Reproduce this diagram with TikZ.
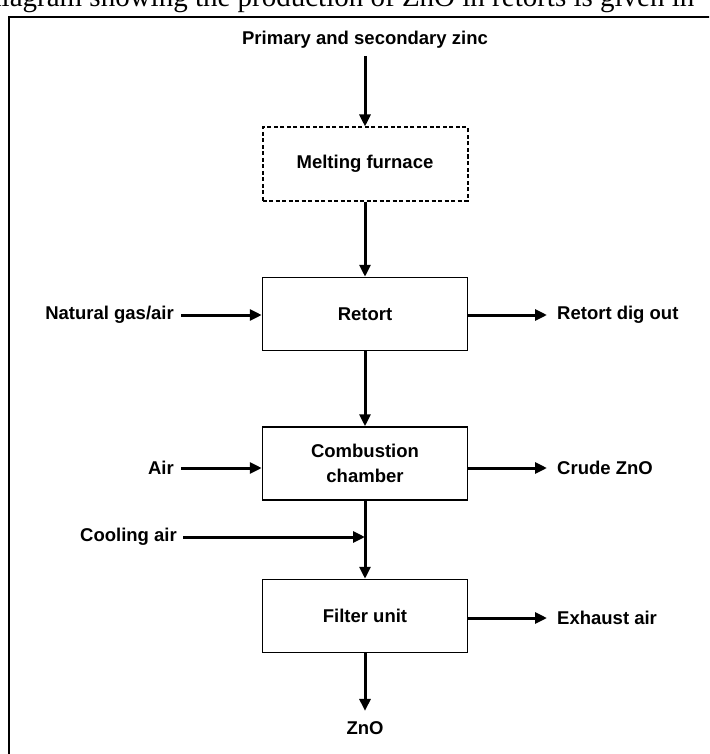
\documentclass[tikz,border=0pt]{standalone}
\usepackage{fontspec}
\setmainfont{Liberation Serif}
\setsansfont{Liberation Sans}
\usetikzlibrary{positioning, arrows.meta, calc}

\begin{document}
\begin{tikzpicture}[x=1pt, y=-1pt,
  unit/.style={draw, line width=1.5pt, minimum width=205pt, minimum height=73pt,
    inner sep=0pt, align=center, font=\sffamily\bfseries\fontsize{18.5}{25}\selectfont},
  stream/.style={inner sep=0pt, font=\sffamily\bfseries\fontsize{18.5}{22}\selectfont},
  flow/.style={line width=3pt, -{Triangle[length=12pt, width=11pt]}}]
  \clip (0,0) rectangle (709,754);
  % running text of the page, cut by the top edge
  \node[anchor=base west, inner sep=0pt, font=\fontsize{29}{34}\selectfont]
    (pagetext) at (-13,6.5) {diagram showing the production of ZnO in retorts is given in};
  \draw[line width=1.4pt] (9,17) rectangle (760,800);
  % process units
  \node[unit, line width=2pt, dash pattern=on 4pt off 2.5pt] (melt) at (365,164) {Melting furnace};
  \node[unit] (retort) at (365,314) {Retort};
  \node[unit] (comb) at (365,463.5) {Combustion\\chamber};
  \node[unit] (filter) at (365,616) {Filter unit};
  % feeds
  \node[stream] (zinc) at (365,40) {Primary and secondary zinc};
  \node[stream, anchor=east] (natgas) at (174,315) {Natural gas/air};
  \node[stream, anchor=east] (air) at (174,468) {Air};
  \node[stream, anchor=east] (cooling) at (177,537) {Cooling air};
  \coordinate (mix) at (365,537);
  % products
  \foreach \unit/\name/\ypos/\txt in {retort/digout/315/Retort dig out,
      comb/crude/468/Crude ZnO, filter/exhaust/618/Exhaust air} {
    \node[stream, anchor=west] (\name) at (557,\ypos) {\txt};
    \draw[flow, shorten >=10pt] (\unit.east |- \name) -- (\name);
  }
  \node[stream, anchor=base] (zno) at (365,734) {ZnO};
  % main line
  \draw[flow, shorten <=7pt] (zinc) -- (melt);
  \draw[flow] (melt) -- (retort);
  \draw[flow] (retort) -- (comb);
  \draw[flow] (comb) -- (filter);
  \draw[flow, shorten >=10pt] (filter) -- (zno);
  \draw[flow, shorten <=7pt] (natgas) -- (natgas -| retort.west);
  \draw[flow, shorten <=7pt] (air) -- (air -| comb.west);
  \draw[flow, shorten <=6pt] (cooling) -- (mix);
\end{tikzpicture}
\end{document}
